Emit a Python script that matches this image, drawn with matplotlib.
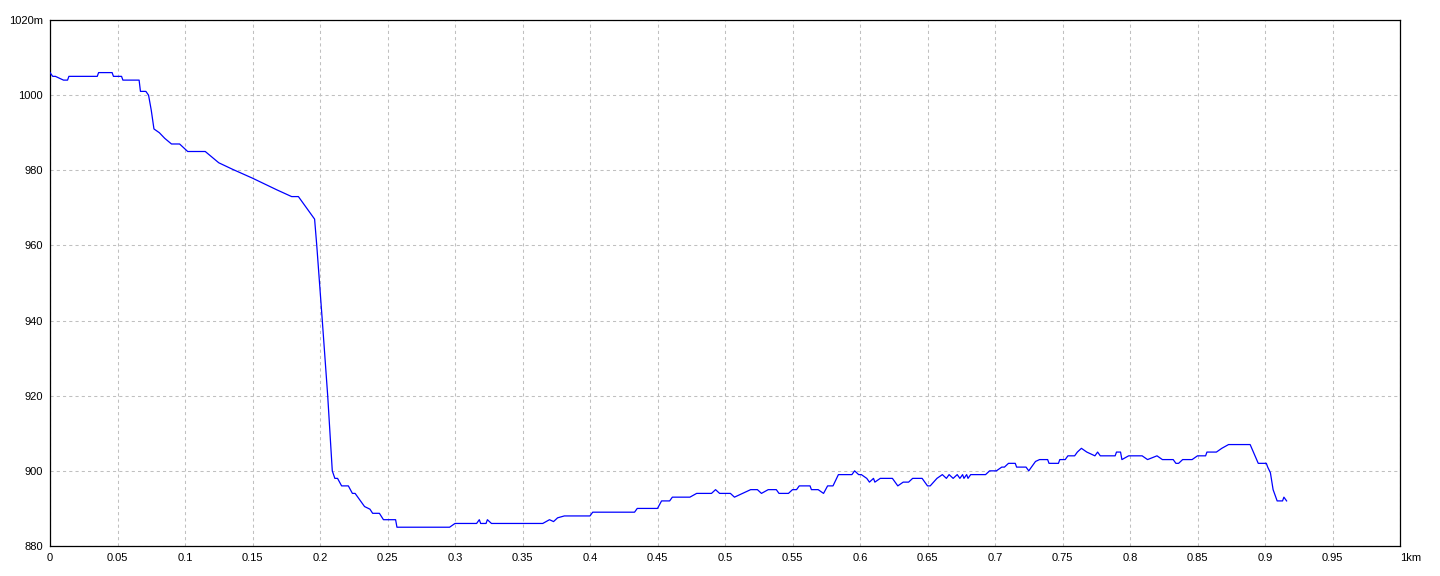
import matplotlib.pyplot as plt

# Elevation profile: distance (km) and altitude (m)
dist_km = [
    0.000, 0.002, 0.004, 0.010, 0.013, 0.014, 0.035, 0.036, 0.046, 0.047,
    0.053, 0.054, 0.066, 0.067, 0.071, 0.073, 0.075, 0.077, 0.081, 0.085,
    0.090, 0.096, 0.099, 0.102, 0.115, 0.120, 0.125, 0.135, 0.150, 0.168,
    0.179, 0.184, 0.189, 0.196, 0.1976, 0.2017, 0.2057, 0.2091, 0.211, 0.213,
    0.216, 0.221, 0.224, 0.226, 0.230, 0.233, 0.237, 0.239, 0.244, 0.247,
    0.256, 0.257, 0.296, 0.300, 0.316, 0.318, 0.319, 0.323, 0.324, 0.327,
    0.365, 0.370, 0.373, 0.376, 0.381, 0.400, 0.402, 0.433, 0.435, 0.450,
    0.453, 0.459, 0.461, 0.474, 0.479, 0.490, 0.493, 0.496, 0.504, 0.507,
    0.513, 0.519, 0.524, 0.527, 0.532, 0.538, 0.540, 0.547, 0.550, 0.553,
    0.555, 0.563, 0.564, 0.569, 0.573, 0.576, 0.580, 0.584, 0.594, 0.596,
    0.599, 0.601, 0.605, 0.607, 0.610, 0.611, 0.615, 0.624, 0.628, 0.632,
    0.636, 0.639, 0.646, 0.650, 0.652, 0.657, 0.661, 0.664, 0.666, 0.669,
    0.672, 0.674, 0.676, 0.677, 0.679, 0.680, 0.682, 0.693, 0.696, 0.701,
    0.705, 0.707, 0.710, 0.715, 0.716, 0.723, 0.725, 0.730, 0.733, 0.739,
    0.740, 0.747, 0.748, 0.752, 0.754, 0.759, 0.761, 0.764, 0.768, 0.774,
    0.776, 0.778, 0.789, 0.790, 0.793, 0.794, 0.799, 0.809, 0.813, 0.820,
    0.824, 0.832, 0.834, 0.836, 0.839, 0.846, 0.850, 0.856, 0.857, 0.864,
    0.868, 0.873, 0.889, 0.895, 0.901, 0.902, 0.904, 0.906, 0.908, 0.909,
    0.913, 0.914, 0.916,
]
alt_m = [
    1006, 1005, 1005, 1004, 1004, 1005, 1005, 1006, 1006, 1005,
    1005, 1004, 1004, 1001, 1001, 1000, 996, 991, 990, 988.5,
    987, 987, 986, 985, 985, 983.5, 982, 980.3, 977.9, 974.8,
    973, 973, 970.5, 967, 960, 940, 920, 900, 898, 898,
    896, 896, 894, 894, 892, 890.5, 889.8, 888.7, 888.7, 887,
    887, 885, 885, 886, 886, 887, 886, 886, 887, 886,
    886, 887, 886.5, 887.5, 888, 888, 889, 889, 890, 890,
    892, 892, 893, 893, 894, 894, 895, 894, 894, 893,
    894, 895, 895, 894, 895, 895, 894, 894, 895, 895,
    896, 896, 895, 895, 894, 896, 896, 899, 899, 900,
    899, 899, 898, 897, 898, 897, 898, 898, 896, 897,
    897, 898, 898, 896, 896, 898, 899, 898, 899, 898,
    899, 898, 899, 898, 899, 898, 899, 899, 900, 900,
    901, 901, 902, 902, 901, 901, 900, 902.5, 903, 903,
    902, 902, 903, 903, 904, 904, 905, 906, 905, 904,
    905, 904, 904, 905, 905, 903, 904, 904, 903, 904,
    903, 903, 902, 902, 903, 903, 904, 904, 905, 905,
    906, 907, 907, 902, 902, 901, 899.5, 895, 893, 892,
    892, 893, 892,
]

x_ticks = [0, 0.05, 0.1, 0.15, 0.2, 0.25, 0.3, 0.35, 0.4, 0.45, 0.5,
           0.55, 0.6, 0.65, 0.7, 0.75, 0.8, 0.85, 0.9, 0.95, 1]
x_labels = ['0', '0.05', '0.1', '0.15', '0.2', '0.25', '0.3', '0.35', '0.4',
            '0.45', '0.5', '0.55', '0.6', '0.65', '0.7', '0.75', '0.8',
            '0.85', '0.9', '0.95', '1km']
y_ticks = [880, 900, 920, 940, 960, 980, 1000, 1020]
y_labels = ['880', '900', '920', '940', '960', '980', '1000', '1020m']

plt.rcParams['font.family'] = ['Liberation Sans', 'DejaVu Sans']

fig = plt.figure(figsize=(14.4, 5.76), dpi=100)
fig.patch.set_facecolor('white')
ax = fig.add_axes([50 / 1440, 30 / 576, 1350 / 1440, 526 / 576])

ax.plot(dist_km, alt_m, color='#0000ff', linewidth=0.9, zorder=3)

ax.set_xlim(0, 1)
ax.set_ylim(880, 1020)

# dashed grey grid
ax.grid(True, which='major', color='#c0c0c0', linestyle=(0, (3, 3)),
        linewidth=0.75, zorder=1)

ax.set_xticks(x_ticks, x_labels)
ax.set_yticks(y_ticks, y_labels)
ax.tick_params(axis='both', length=0, labelsize=8, colors='black')
ax.tick_params(axis='x', pad=5)
ax.tick_params(axis='y', pad=5)

# "1km" starts at the tick, like the original
last = ax.get_xticklabels()[-1]
last.set_horizontalalignment('left')
last.set_x(1)

for s in ax.spines.values():
    s.set_color('black')
    s.set_linewidth(0.9)

fig.savefig('out.png', dpi=100)
